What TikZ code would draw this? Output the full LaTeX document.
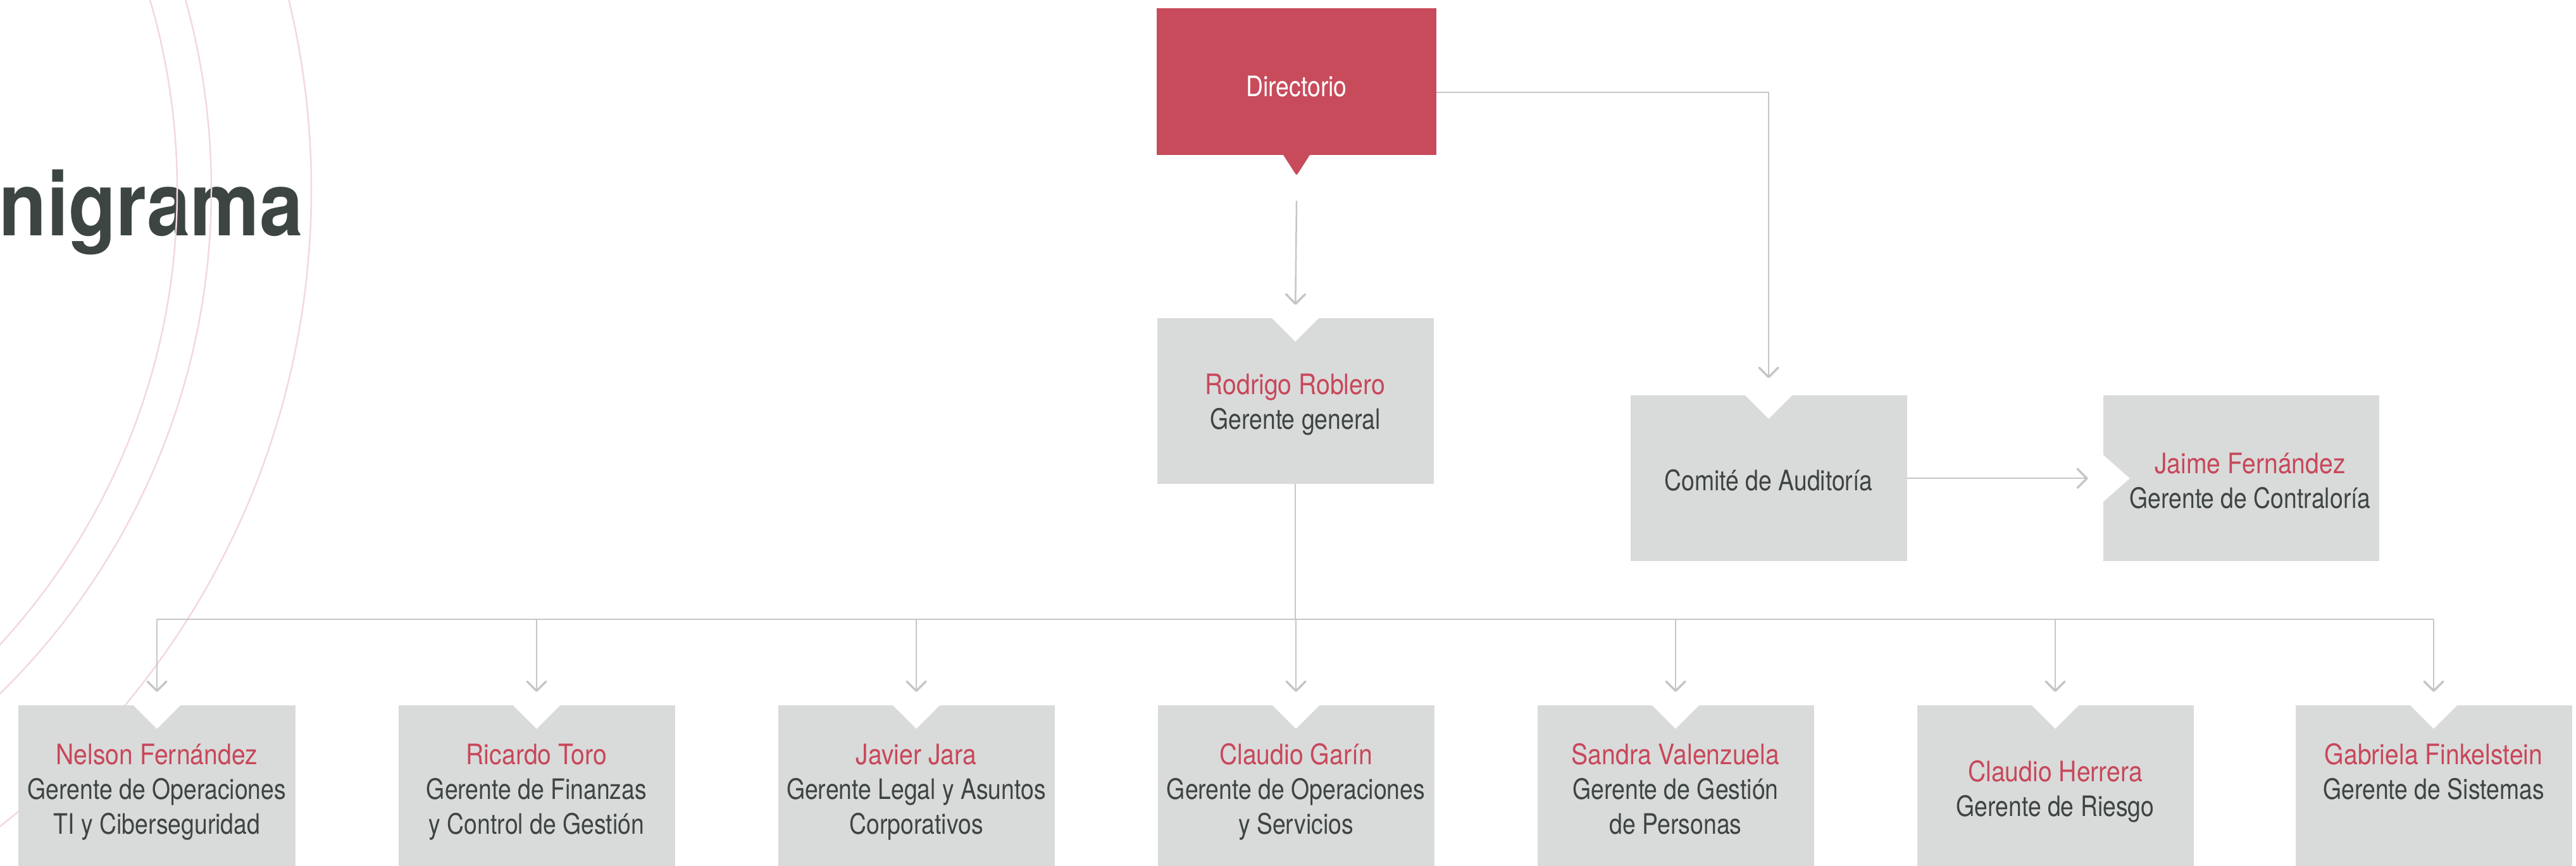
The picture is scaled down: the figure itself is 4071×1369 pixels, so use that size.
\documentclass[tikz,border=0pt]{standalone}
\usepackage{fontspec}
\setmainfont{TeX Gyre Heros}
\newfontfamily\namefont[FakeStretch=0.88]{TeX Gyre Heros}
\newfontfamily\rolefont[FakeStretch=0.84]{TeX Gyre Heros}
\newfontfamily\titlefont[FakeStretch=0.88]{TeX Gyre Heros}
\usetikzlibrary{arrows.meta,calc}
\definecolor{nred}{HTML}{C8475A}
\definecolor{dirred}{HTML}{C84B5C}
\definecolor{boxgray}{HTML}{D9DBDA}
\definecolor{txtgray}{HTML}{3D4543}
\definecolor{conngray}{HTML}{C5C7C7}
\definecolor{arcpink}{HTML}{F3D9DC}
\newcommand\topnotch[1]{\fill[white] ($(#1.north)+(-38,-1)$) -- ($(#1.north)+(0,37)$) -- ($(#1.north)+(38,-1)$) -- cycle;}
\newcommand\twol[2]{\begin{tabular}[t]{@{}c@{}}\namefont\color{nred}#1\\ #2\end{tabular}}
\newcommand\threel[3]{\begin{tabular}[t]{@{}c@{}}\namefont\color{nred}#1\\ #2\\ #3\end{tabular}}
\begin{document}
\begin{tikzpicture}[x=1bp,y=-1bp,
  box/.style={rectangle, fill=boxgray, inner sep=0pt, minimum width=437bp, anchor=north,
    font=\rolefont\fontsize{44.5bp}{55bp}\selectfont, text=txtgray},
  low/.style={box, text height=93bp, text depth=300bp},
  conn/.style={draw=conngray, line width=2.5bp},
  arr/.style={conn, -{Straight Barb[length=15bp,width=30bp,line width=3.5bp,round]}, shorten >=21bp},
  arcline/.style={draw=arcpink, line width=2.5bp}]
\useasboundingbox (0,0) rectangle (4071,1369);
\clip (0,0) rectangle (4071,1369);

% title
\node[anchor=base east, inner sep=0pt, text=txtgray,
  font=\titlefont\bfseries\fontsize{140bp}{140bp}\selectfont] (title) at (479,372) {Organigrama};

% decorative arcs
\draw[arcline] (-783,300) circle[radius=1063];
\draw[arcline] (-783,300) circle[radius=1117];
\draw[arcline] (-783,300) circle[radius=1275];

% Directorio
\node[box, fill=dirred, text=white, minimum width=442bp, text height=139bp, text depth=93bp] (dir) at (2049,13) {Directorio};
\fill[dirred] ($(dir.south)+(-22,-2)$) -- ($(dir.south)+(-3.2,27.2)$) .. controls ($(dir.south)+(0,32)$) .. ($(dir.south)+(3.2,27.2)$) -- ($(dir.south)+(22,-2)$) -- cycle;

% Gerente general
\node[box, text height=120bp, text depth=142bp] (gg) at (2047,503) {\twol{Rodrigo Roblero}{Gerente general}};
\topnotch{gg}

% Comite and Contraloria
\node[box, text height=150bp, text depth=112bp] (com) at (2795,625) {Comité de Auditoría};
\topnotch{com}
\node[box, minimum width=436bp, text height=123bp, text depth=139bp] (jai) at (3542,625)
  {\begin{tabular}[t]{@{\hspace{28bp}}c@{}}\namefont\color{nred}Jaime Fernández\\ Gerente de Contraloría\end{tabular}};
\fill[white] ($(jai.west)+(-1,-38)$) -- ($(jai.west)+(42,0)$) -- ($(jai.west)+(-1,38)$) -- cycle;

% bottom row
\node[low] (b1) at (248,1115) {\threel{Nelson Fernández}{Gerente de Operaciones}{TI y Ciberseguridad}};
\node[low] (b2) at (848,1115) {\threel{Ricardo Toro}{Gerente de Finanzas}{y Control de Gestión}};
\node[low] (b3) at (1448,1115) {\threel{Javier Jara}{Gerente Legal y Asuntos}{Corporativos}};
\node[low] (b4) at (2048,1115) {\threel{Claudio Garín}{Gerente de Operaciones}{y Servicios}};
\node[low] (b5) at (2648,1115) {\threel{Sandra Valenzuela}{Gerente de Gestión}{de Personas}};
\node[box, text height=120bp, text depth=300bp] (b6) at (3248,1115) {\twol{Claudio Herrera}{Gerente de Riesgo}};
\node[low] (b7) at (3846,1115) {\twol{Gabriela Finkelstein}{Gerente de Sistemas}};
\foreach \b in {b1,b2,b3,b4,b5,b6,b7} {\topnotch{\b}}

% connectors
\coordinate (bus) at (0,979);
\draw[arr] ([yshift=-72bp]dir.south) -- (gg.north);
\draw[arr, shorten >=27bp] ([yshift=-17bp]dir.east) -| (com.north);
\draw[arr, shorten >=24bp] (com.east) -- (jai.west);
\draw[conn] (gg.south) -- (gg.south |- bus);
\draw[conn] (b1.north |- bus) -- (b7.north |- bus);
\foreach \b in {b1,b2,b3,b4,b5,b6,b7} {\draw[arr] (\b.north |- bus) -- (\b.north);}
\end{tikzpicture}
\end{document}
